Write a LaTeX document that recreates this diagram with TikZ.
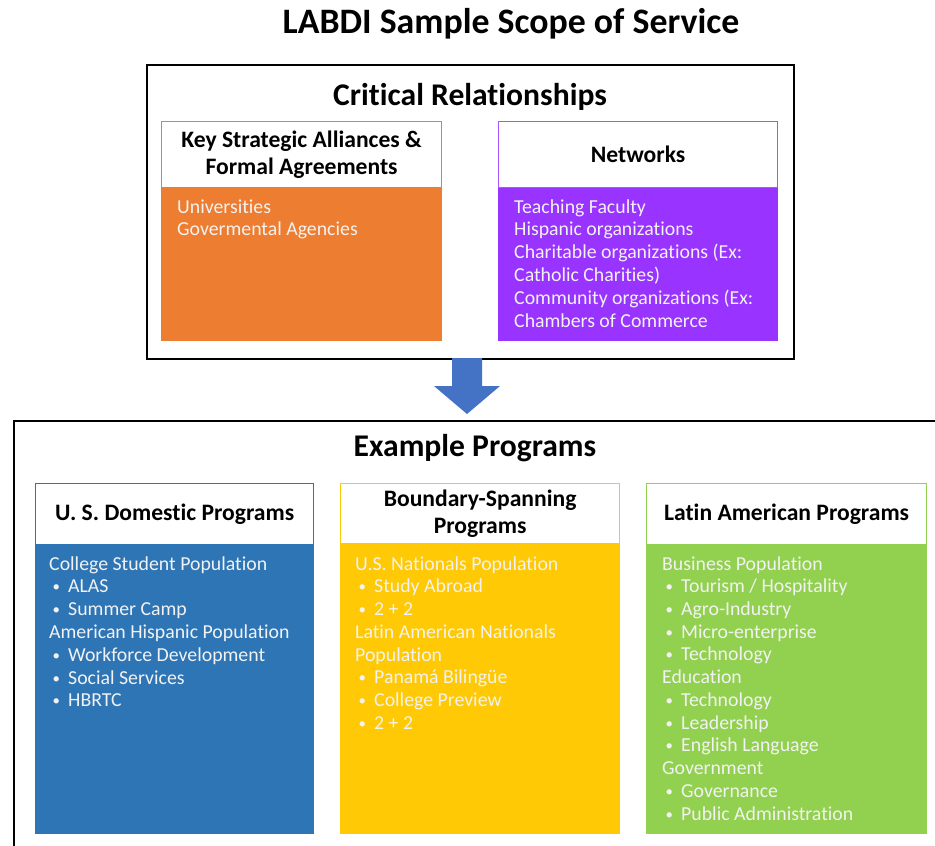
\documentclass[tikz,border=0pt]{standalone}
\usepackage{fontspec}
\setmainfont[Ligatures=NoCommon]{Carlito}
\definecolor{orangeC}{HTML}{ED7D31}
\definecolor{purpleC}{HTML}{9933FF}
\definecolor{purpleL}{HTML}{A855FF}
\definecolor{blueC}{HTML}{2E75B6}
\definecolor{yellowC}{HTML}{FFC905}
\definecolor{greenC}{HTML}{92D050}
\definecolor{arrowC}{HTML}{4472C4}
\definecolor{bodytext}{HTML}{F2F2F2}
\newcommand\bl[1]{\makebox[19pt][l]{\hspace{3.5pt}\raisebox{1pt}{\scalebox{0.75}{\textbullet}}}#1}
\newcommand\itemfont{\fontsize{19.8}{23}\selectfont}
\newcommand\hdrfont{\fontsize{23.6}{27}\selectfont\bfseries}
\tikzset{
  outerbox/.style={draw=black, line width=1.8pt, anchor=north west, inner sep=0},
  hdrbox/.style={draw=#1, line width=1.2pt, fill=white, anchor=north west, inner sep=0},
  bodybox/.style={draw=#1, fill=#1, line width=1.2pt, anchor=north west, inner sep=0},
  hdrtext/.style={font=\hdrfont, align=center, inner sep=0},
  item/.style={anchor=base west, inner sep=0, text=bodytext, font=\itemfont},
  bigtitle/.style={font=\fontsize{31.6}{36}\selectfont\bfseries, inner sep=0},
}
\begin{document}
\begin{tikzpicture}[x=1pt,y=-1pt]
\useasboundingbox (0,0) rectangle (935,846);
\clip (0,0) rectangle (935,846);
\fill[white] (0,0) rectangle (935,846);

\node[font=\fontsize{35.8}{40}\selectfont\bfseries, inner sep=0] (title) at (511,24) {LABDI Sample Scope of Service};

% top container
\node[outerbox, minimum width=647, minimum height=294] (crit) at (146,64) {};
\node[bigtitle] (critt) at (470,97) {Critical Relationships};

% orange
\node[bodybox=orangeC, minimum width=280, minimum height=219] (ksa) at (161,121) {};
\node[hdrbox=orangeC, minimum width=280, minimum height=66] (ksah) at (161,121) {};
\node[hdrtext] (ksat) at (ksah.center) {Key Strategic Alliances \&\\Formal Agreements};
\foreach \t [count=\i from 0] in {Universities, Govermental Agencies}
  \node[item] (ksa\i) at (177,{213+22.8*\i}) {\t};

% purple
\node[bodybox=purpleC, minimum width=279, minimum height=219] (net) at (498,121) {};
\node[hdrbox=purpleL, minimum width=279, minimum height=66] (neth) at (498,121) {};
\node[hdrtext] (nett) at (neth.center) {Networks};
\foreach \t [count=\i from 0] in {Teaching Faculty, Hispanic organizations, Charitable organizations (Ex:, Catholic Charities), Community organizations (Ex:, Chambers of Commerce}
  \node[item] (net\i) at (514,{213+22.8*\i}) {\t};

% arrow
\fill[arrowC] (452,358) -- (482,358) -- (482,386) -- (500,386) -- (467,414) -- (434,386) -- (452,386) -- cycle;

% bottom container
\node[outerbox, minimum width=940, minimum height=440] (ex) at (13,420) {};
\node[bigtitle] (ext) at (475,448) {Example Programs};

% blue
\node[bodybox=blueC, minimum width=278, minimum height=350] (us) at (35,483) {};
\node[hdrbox=blueC, minimum width=278, minimum height=61] (ush) at (35,483) {};
\node[hdrtext] (ust) at (ush.center) {U. S. Domestic Programs};
\foreach \t [count=\i from 0] in {College Student Population, \bl{ALAS}, \bl{Summer Camp}, American Hispanic Population, \bl{Workforce Development}, \bl{Social Services}, \bl{HBRTC}}
  \node[item] (us\i) at (49,{570+22.8*\i}) {\t};

% yellow
\node[bodybox=yellowC, minimum width=279, minimum height=350] (bs) at (340,483) {};
\node[hdrbox=yellowC, minimum width=279, minimum height=60] (bsh) at (340,483) {};
\node[hdrtext] (bst) at (bsh.center) {Boundary-Spanning\\Programs};
\foreach \t [count=\i from 0] in {U.S. Nationals Population, \bl{Study Abroad}, \bl{2 + 2}, Latin American Nationals, Population, \bl{Panamá Bilingüe}, \bl{College Preview}, \bl{2 + 2}}
  \node[item] (bs\i) at (355,{570+22.75*\i}) {\t};

% green
\node[bodybox=greenC, minimum width=280, minimum height=350] (la) at (646,483) {};
\node[hdrbox=greenC, minimum width=280, minimum height=61] (lah) at (646,483) {};
\node[hdrtext] (lat) at (lah.center) {Latin American Programs};
\foreach \t [count=\i from 0] in {Business Population, \bl{Tourism / Hospitality}, \bl{Agro-Industry}, \bl{Micro-enterprise}, \bl{Technology}, Education, \bl{Technology}, \bl{Leadership}, \bl{English Language}, Government, \bl{Governance}, \bl{Public Administration}}
  \node[item] (la\i) at (662,{570+22.73*\i}) {\t};
\end{tikzpicture}
\end{document}
